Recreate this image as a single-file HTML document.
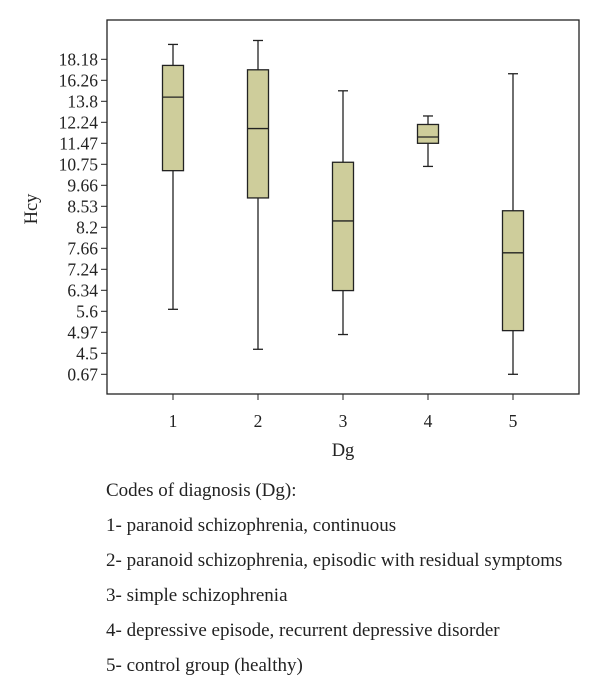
<!DOCTYPE html>
<html><head><meta charset="utf-8"><style>
body{margin:0;background:#fff;width:600px;height:695px;overflow:hidden;font-family:"Liberation Serif",serif;}
svg{position:absolute;left:0;top:0}
.cap{position:absolute;left:106px;font-size:19px;line-height:19px;color:#222;white-space:nowrap}
</style></head><body>
<svg id="chart" width="600" height="470"></svg>
<div class="cap" style="top:481px">Codes of diagnosis (Dg):</div>
<div class="cap" style="top:516px">1- paranoid schizophrenia, continuous</div>
<div class="cap" style="top:551px">2- paranoid schizophrenia, episodic with residual symptoms</div>
<div class="cap" style="top:586px">3- simple schizophrenia</div>
<div class="cap" style="top:621px">4- depressive episode, recurrent depressive disorder</div>
<div class="cap" style="top:656px">5- control group (healthy)</div>
<script>
const categories=["1","2","3","4","5"];
const tickLabels=["0.67","4.5","4.97","5.6","6.34","7.24","7.66","8.2","8.53","9.66","10.75","11.47","12.24","13.8","16.26","18.18"];
const whiskerLow=[5.67,4.59,4.92,10.64,0.67];
const q1=[10.42,8.98,6.33,11.47,5.02];
const median=[14.29,12.01,8.3,11.7,7.57];
const q3=[17.62,17.22,10.82,12.16,8.46];
const whiskerHigh=[19.54,19.9,15.03,12.71,16.86];

const NS="http://www.w3.org/2000/svg";
const svg=document.getElementById('chart');
const L=107,T=20,R=579,B=394;
const tickVals=tickLabels.map(Number);
function idx(v){
  const t=tickVals,n=t.length;
  if(v<=t[0]) return (v-t[0])/(t[1]-t[0]);
  for(let i=0;i<n-1;i++){ if(v<=t[i+1]) return i+(v-t[i])/(t[i+1]-t[i]); }
  return n-1+(v-t[n-1])/(t[n-1]-t[n-2]);
}
function y(v){return 374.3-idx(v)*21;}
function x(i){return 173+i*85;}
function el(tag,attrs,parent){const e=document.createElementNS(NS,tag);for(const k in attrs)e.setAttribute(k,attrs[k]);(parent||svg).appendChild(e);return e;}

const frame=el('rect',{x:L,y:T,width:R-L,height:B-T,fill:'none',stroke:'#222','stroke-width':1.3});



tickLabels.forEach((lab,i)=>{
  const yy=y(tickVals[i]);
  const tk=el('line',{x1:L-6,x2:L,y1:yy,y2:yy,stroke:'#222','stroke-width':1});
  
  
  const t=el('text',{x:L-9,y:yy+6,'text-anchor':'end','font-size':17.5,fill:'#222'});
  t.textContent=lab;
  
  
});
categories.forEach((c,i)=>{
  const xx=x(i);
  const tk=el('line',{x1:xx,x2:xx,y1:B,y2:B+6,stroke:'#222','stroke-width':1});
  
  
  const t=el('text',{x:xx,y:427,'text-anchor':'middle','font-size':17.5,fill:'#222'});
  t.textContent=c;
  
  
  const g=el('g',{});
  
  
  const hw=10.5,cw=5;
  el('line',{x1:xx,x2:xx,y1:y(whiskerHigh[i]),y2:y(q3[i]),stroke:'#222','stroke-width':1.3},g);
  el('line',{x1:xx,x2:xx,y1:y(q1[i]),y2:y(whiskerLow[i]),stroke:'#222','stroke-width':1.3},g);
  el('line',{x1:xx-cw,x2:xx+cw,y1:y(whiskerHigh[i]),y2:y(whiskerHigh[i]),stroke:'#222','stroke-width':1.3},g);
  el('line',{x1:xx-cw,x2:xx+cw,y1:y(whiskerLow[i]),y2:y(whiskerLow[i]),stroke:'#222','stroke-width':1.3},g);
  el('rect',{x:xx-hw,y:y(q3[i]),width:hw*2,height:y(q1[i])-y(q3[i]),fill:'#cecd9b',stroke:'#222','stroke-width':1.3},g);
  el('line',{x1:xx-hw,x2:xx+hw,y1:y(median[i]),y2:y(median[i]),stroke:'#222','stroke-width':1.3},g);
});
const xt=el('text',{x:343,y:456,'text-anchor':'middle','font-size':18.5,fill:'#222'});
xt.textContent='Dg';


const yt=el('text',{x:0,y:0,'text-anchor':'middle','font-size':18.5,fill:'#222',transform:'translate(37,209) rotate(-90)'});
yt.textContent='Hcy';


</script>
</body></html>
